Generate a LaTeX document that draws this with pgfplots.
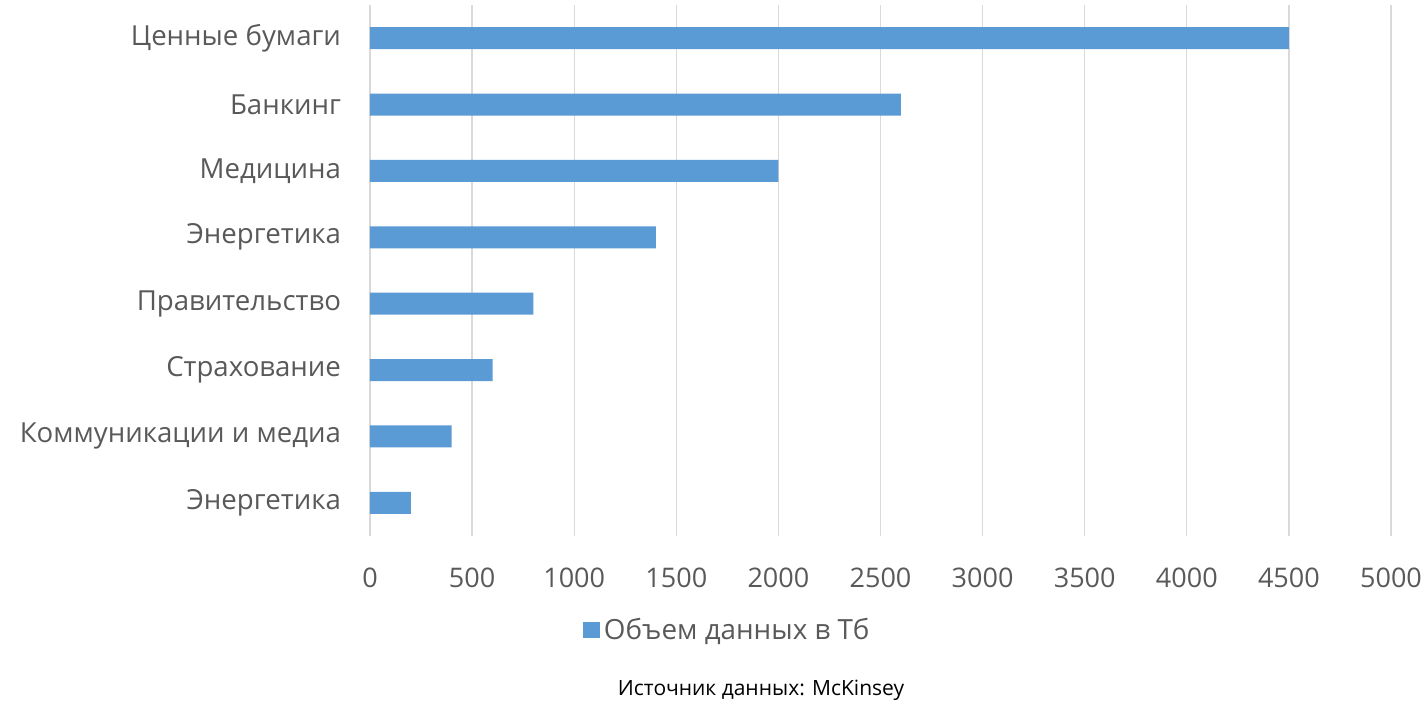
\documentclass[border=0pt]{standalone}
\usepackage{fontspec}
\setmainfont{Open Sans}
\usepackage{pgfplots}
\pgfplotsset{compat=1.18}
\definecolor{barblue}{HTML}{5B9BD5}
\definecolor{gridgray}{HTML}{D9D9D9}
\definecolor{labgray}{HTML}{595959}
\begin{document}
\begin{tikzpicture}
\path[use as bounding box] (-185pt,-84.5pt) rectangle (529pt,268pt);
\begin{axis}[
  scale only axis, clip=false,
  width=510.5pt, height=265.5pt,
  xbar, bar width=11pt,
  xmin=0, xmax=5000, ymin=-0.5, ymax=7.5,
  xtick={0,500,...,5000},
  ytick={0,...,7},
  yticklabels={Энергетика,Коммуникации и медиа,Страхование,Правительство,Энергетика,Медицина,Банкинг,Ценные бумаги},
  /pgf/number format/assume math mode=true,
  /pgf/number format/1000 sep={},
  xmajorgrids, grid style={gridgray, line width=0.6pt},
  axis line style={draw=none},
  major tick length=0pt,
  xticklabel style={font=\fontsize{13.5}{16}\selectfont, text=labgray, yshift=-12.5pt},
  yticklabel style={font=\fontsize{13.8}{16}\selectfont, text=labgray, xshift=-11pt},
  legend style={at={(0.351,-0.177)}, anchor=center, draw=none, fill=none,
    font=\fontsize{13.9}{16}\selectfont, text=labgray, inner sep=0pt},
  legend image code/.code={\fill[barblue] (0pt,-4.2pt) rectangle (8.4pt,4.2pt);},
]
\addplot[fill=barblue, draw=none] coordinates {
  (200,0) (400,1) (600,2) (800,3) (1400,4) (2000,5) (2600,6) (4500,7)
};
\addlegendentry{Объем данных в Тб}
\node[font=\fontsize{10.5}{12}\selectfont, text=black] at (rel axis cs:0.383,-0.29) {Источник данных: McKinsey};
\end{axis}
\end{tikzpicture}
\end{document}
